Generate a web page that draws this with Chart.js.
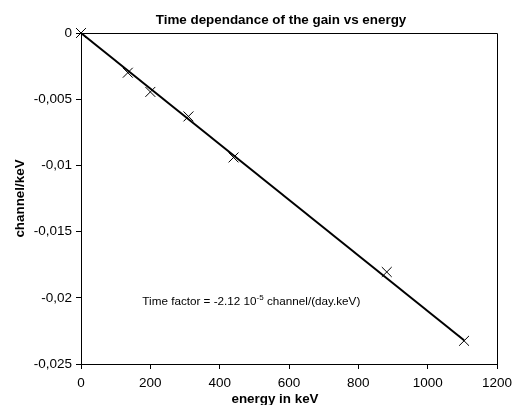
<!DOCTYPE html>
<html>
<head>
<meta charset="utf-8">
<script src="https://cdn.jsdelivr.net/npm/chart.js@4/dist/chart.umd.min.js"></script>
<style>
  html, body { margin: 0; padding: 0; background: #fff; }
  #wrap { width: 512px; height: 405px; }
</style>
</head>
<body>
<div id="wrap"><canvas id="myChart" width="512" height="405"></canvas></div>
<script>
// measured points (energy in keV, gain drift in channel/keV)
var energies = [0, 135, 200, 310, 440, 882, 1105];
var gains = [0, -0.0030, -0.00445, -0.0063, -0.0094, -0.01805, -0.02325];

// fitted line, two ends
var fitEnergies = [0, 1105];
var fitGains = [0, -0.0232];

var chartTitle = 'Time dependance of the gain vs energy';
var xTitle = 'energy in keV';
var yTitle = 'channel/keV';
var noteText = 'Time factor = -2.12 10';
var noteSup = '-5';
var noteTail = ' channel/(day.keV)';

var FONT = '"Liberation Sans", Arial, sans-serif';

function toPoints(xs, ys) {
  var out = [];
  for (var i = 0; i < xs.length; i++) {
    out.push({ x: xs[i], y: ys[i] });
  }
  return out;
}

function commaFormat(v) {
  return String(Number(v.toFixed(4))).replace('.', ',');
}

var extras = {
  id: 'extras',
  afterDraw: function(chart) {
    var ctx = chart.ctx;
    var a = chart.chartArea;
    ctx.save();
    // frame round the plot
    ctx.strokeStyle = '#000';
    ctx.lineWidth = 1;
    ctx.beginPath();
    ctx.moveTo(a.left, a.top + 0.5);
    ctx.lineTo(a.right + 0.5, a.top + 0.5);
    ctx.lineTo(a.right + 0.5, a.bottom);
    ctx.stroke();

    // title and x axis title
    ctx.fillStyle = '#000';
    ctx.font = 'bold 13.4px ' + FONT;
    ctx.textAlign = 'center';
    ctx.textBaseline = 'middle';
    ctx.fillText(chartTitle, 281, 20);
    ctx.fillText(xTitle, 275, 399);

    // note with superscript
    var xs = chart.scales.x, ys = chart.scales.y;
    var px = xs.getPixelForValue(177);
    var py = ys.getPixelForValue(-0.0203);
    ctx.textAlign = 'left';
    ctx.font = '11.7px ' + FONT;
    ctx.fillText(noteText, px, py);
    var w = ctx.measureText(noteText).width;
    ctx.font = '8px ' + FONT;
    ctx.fillText(noteSup, px + w, py - 4);
    var w2 = ctx.measureText(noteSup).width;
    ctx.font = '11.7px ' + FONT;
    ctx.fillText(noteTail, px + w + w2, py);
    ctx.restore();
  }
};

var ctx = document.getElementById('myChart').getContext('2d');
var chart = new Chart(ctx, {
  type: 'scatter',
  data: {
    datasets: [
      {
        label: 'fit',
        data: toPoints(fitEnergies, fitGains),
        showLine: true,
        borderColor: '#000',
        borderWidth: 2,
        pointRadius: 0,
        clip: false
      },
      {
        label: 'measured',
        data: toPoints(energies, gains),
        showLine: false,
        pointStyle: 'crossRot',
        pointRadius: 7,
        borderColor: '#000',
        borderWidth: 1,
        clip: false
      }
    ]
  },
  options: {
    responsive: false,
    animation: false,
    layout: { padding: { top: 33, right: 15, left: 0, bottom: 0 } },
    plugins: {
      legend: { display: false },
      tooltip: { enabled: false },
      title: { display: false }
    },
    scales: {
      x: {
        type: 'linear',
        min: 0,
        max: 1200,
        ticks: {
          stepSize: 200,
          color: '#000',
          padding: 6,
          maxRotation: 0,
          font: { family: FONT, size: 13.5 },
          callback: function(v) { return String(v); }
        },
        grid: { display: true, drawOnChartArea: false, drawTicks: true, tickLength: 5, color: '#000' },
        border: { display: true, color: '#000', width: 1 },
        title: { display: false },
        afterFit: function(scale) {
          scale.height = 41;
          scale.paddingLeft = 0;
          scale.paddingRight = 0;
        }
      },
      y: {
        type: 'linear',
        min: -0.025,
        max: 0,
        ticks: {
          stepSize: 0.005,
          color: '#000',
          padding: 4,
          font: { family: FONT, size: 13.5 },
          callback: function(v) { return commaFormat(v); }
        },
        grid: { display: true, drawOnChartArea: false, drawTicks: true, tickLength: 5, color: '#000' },
        border: { display: true, color: '#000', width: 1 },
        title: {
          display: true,
          text: yTitle,
          color: '#000',
          padding: { top: 12, bottom: 0 },
          font: { family: FONT, size: 13.4, weight: 'bold' }
        },
        afterFit: function(scale) {
          scale.width = 81;
          scale.paddingTop = 0;
          scale.paddingBottom = 0;
        }
      }
    }
  },
  plugins: [extras]
});
</script>
</body>
</html>
